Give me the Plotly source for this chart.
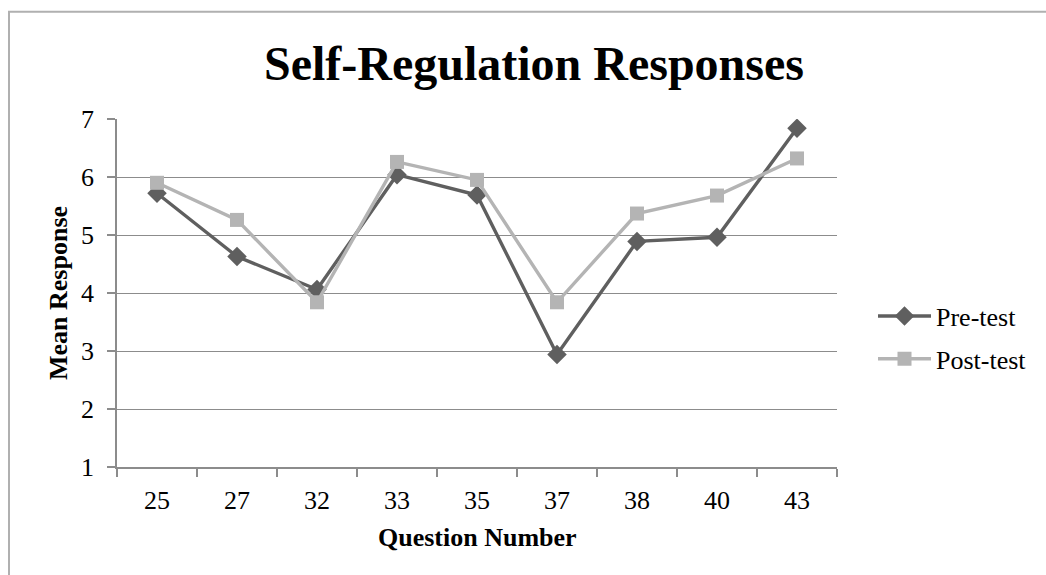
import plotly.graph_objects as go

questions = ["25", "27", "32", "33", "35", "37", "38", "40", "43"]
pre_test = [5.72, 4.63, 4.06, 6.04, 5.69, 2.94, 4.89, 4.96, 6.84]
post_test = [5.90, 5.26, 3.84, 6.26, 5.95, 3.84, 5.37, 5.68, 6.32]

FONT = "Liberation Serif"
PRE_COLOR = "#5f5f5f"
POST_COLOR = "#b4b4b4"
GRID = "#8c8c8c"

fig = go.Figure()
fig.add_trace(go.Scatter(
    x=questions, y=pre_test, name="Pre-test", mode="lines+markers",
    line=dict(color=PRE_COLOR, width=3.4),
    marker=dict(symbol="diamond", size=15, color=PRE_COLOR),
    legendgroup="a",
))
fig.add_trace(go.Scatter(
    x=questions, y=post_test, name="Post-test", mode="lines+markers",
    line=dict(color=POST_COLOR, width=3.4),
    marker=dict(symbol="square", size=14, color=POST_COLOR),
    legendgroup="b",
))

fig.update_layout(
    width=1046, height=575,
    margin=dict(l=117, r=209, t=119, b=108),
    paper_bgcolor="white", plot_bgcolor="white",
    font=dict(family=FONT, size=26, color="#000000"),
    title=dict(text="<b>Self-Regulation Responses</b>", x=0.5105, xref="container",
               xanchor="center", y=1 - 63 / 575, yref="container", yanchor="middle",
               font=dict(family=FONT, size=48, color="#000000")),
    legend=dict(x=(873 - 117) / 720, y=0.372, xanchor="left", yanchor="middle",
                font=dict(family=FONT, size=26, color="#000000"),
                traceorder="grouped", tracegroupgap=6, itemwidth=53,
                bgcolor="rgba(0,0,0,0)"),
    showlegend=True,
)

fig.update_xaxes(
    type="category", range=[-0.5, 8.5],
    showgrid=False, showline=True, linecolor=GRID, linewidth=1.5,
    ticks="outside", tickson="boundaries", ticklen=8, tickcolor=GRID, tickwidth=1.5,
    ticklabelstandoff=9,
    tickfont=dict(family=FONT, size=26, color="#000000"),
    fixedrange=True,
)
fig.update_yaxes(
    range=[1, 7], dtick=1, tick0=1,
    showgrid=True, gridcolor=GRID, gridwidth=1.3,
    showline=True, linecolor=GRID, linewidth=1.5,
    ticks="outside", ticklen=8, tickcolor=GRID, tickwidth=1.5,
    ticklabelstandoff=8,
    tickfont=dict(family=FONT, size=26, color="#000000"),
    zeroline=False,
)

fig.add_annotation(text="<b>Question Number</b>", xref="paper", yref="paper",
                   x=0.5, y=(467.3 - 538) / 348, xanchor="center", yanchor="middle",
                   showarrow=False, font=dict(family=FONT, size=26, color="#000000"))
fig.add_annotation(text="<b>Mean Response</b>", xref="paper", yref="paper",
                   x=(58 - 117) / 720, y=0.5, xanchor="center", yanchor="middle",
                   textangle=-90, showarrow=False,
                   font=dict(family=FONT, size=26, color="#000000"))

# outer chart frame (cropped at right and bottom)
fig.add_shape(type="rect", xref="paper", yref="paper",
              x0=(9 - 117) / 720, x1=1.6, y0=-0.6, y1=(467.3 - 12) / 348,
              line=dict(color="#b0b0b0", width=2), layer="below")

fig.write_html("out.html")
